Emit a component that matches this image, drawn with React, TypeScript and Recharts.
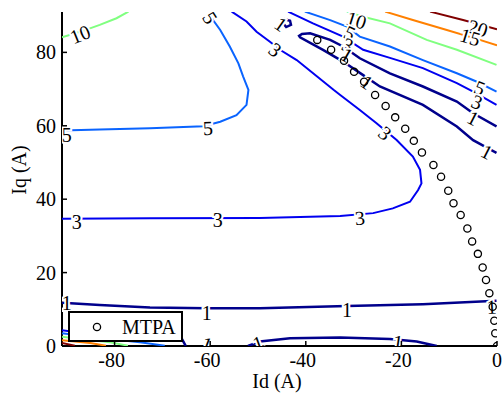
import { ComposedChart, Legend, Scatter, XAxis, YAxis } from "recharts";

// contour lines (Id, Iq)
const level1Loop = [
  { x: -0.1, y: 59.8 }, { x: -5.0, y: 63.4 }, { x: -8.4, y: 66.6 }, { x: -15.5, y: 70.7 },
  { x: -22.4, y: 74.3 }, { x: -28.7, y: 78.4 }, { x: -32.2, y: 81.6 }, { x: -34.9, y: 83.4 },
  { x: -39.1, y: 85.2 }, { x: -40.8, y: 85.0 }, { x: -41.4, y: 84.5 }, { x: -41.2, y: 84.1 },
  { x: -36.4, y: 80.7 }, { x: -32.2, y: 77.5 }, { x: -28.0, y: 73.8 }, { x: -24.5, y: 70.7 },
  { x: -15.5, y: 65.7 }, { x: -8.4, y: 59.8 }, { x: -5.0, y: 56.1 }, { x: -0.1, y: 52.6 },
];
const level1Small = [
  { x: -44.6, y: 89.1 }, { x: -43.3, y: 88.6 }, { x: -43.1, y: 87.5 }, { x: -44.1, y: 86.9 },
  { x: -44.8, y: 88.0 }, { x: -44.6, y: 89.1 },
];
const level1Low = [
  { x: -91, y: 11.8 }, { x: -83.1, y: 11.2 }, { x: -72.6, y: 10.5 }, { x: -60.7, y: 10.3 },
  { x: -49.6, y: 10.3 }, { x: -31.4, y: 10.9 }, { x: -15.5, y: 11.4 }, { x: -0.1, y: 12.3 },
];
const level1Arc = [
  { x: -52.1, y: 0 }, { x: -49.6, y: 1.2 }, { x: -43.3, y: 2.1 }, { x: -32.8, y: 2.3 },
  { x: -22.4, y: 1.9 }, { x: -16.8, y: 1.2 }, { x: -12.6, y: 0 },
];
const level1ArcLeft = [
  { x: -81, y: 3.3 }, { x: -72.6, y: 3.0 }, { x: -67.4, y: 2.6 }, { x: -65.9, y: 1.9 }, { x: -65.1, y: 0 },
];
const level3Main = [
  { x: -55.5, y: 91.1 }, { x: -52.4, y: 88.4 }, { x: -50.3, y: 85.6 }, { x: -47.5, y: 82.9 },
  { x: -45.4, y: 80.7 }, { x: -41.9, y: 77.9 }, { x: -34.2, y: 69.8 }, { x: -32.8, y: 68.4 },
  { x: -28.7, y: 64.3 }, { x: -25.2, y: 60.7 }, { x: -21.0, y: 56.1 }, { x: -17.6, y: 51.6 },
  { x: -16.1, y: 48.0 }, { x: -15.8, y: 44.3 }, { x: -16.5, y: 42.5 }, { x: -18.2, y: 39.3 },
  { x: -21.8, y: 37.5 }, { x: -25.9, y: 36.2 }, { x: -32.8, y: 35.4 }, { x: -49.6, y: 34.9 },
  { x: -72.6, y: 34.8 }, { x: -91, y: 34.7 },
];
const level3Upper = [
  { x: -43.7, y: 91.1 }, { x: -38.5, y: 87.9 }, { x: -32.2, y: 84.3 }, { x: -28.0, y: 80.7 },
  { x: -22.4, y: 78.5 }, { x: -15.5, y: 75.7 }, { x: -8.4, y: 71.6 }, { x: -5.0, y: 69.3 },
  { x: -0.1, y: 65.7 },
];
const level3Corner = [{ x: -91, y: 4.3 }, { x: -86, y: 3.4 }, { x: -80, y: 2.6 }];
const level5Left = [
  { x: -91, y: 58.7 }, { x: -83.1, y: 59.0 }, { x: -72.6, y: 59.3 }, { x: -61.4, y: 59.9 },
  { x: -57.9, y: 61.1 }, { x: -54.5, y: 62.9 }, { x: -52.4, y: 65.7 }, { x: -52.0, y: 69.8 },
  { x: -53.1, y: 73.4 }, { x: -54.1, y: 77.0 }, { x: -55.9, y: 81.6 }, { x: -57.9, y: 86.1 },
  { x: -59.4, y: 88.8 }, { x: -60.0, y: 91.1 },
];
const level5Upper = [
  { x: -40.2, y: 91.1 }, { x: -34.9, y: 88.8 }, { x: -31.4, y: 87.0 }, { x: -28.7, y: 84.3 },
  { x: -22.4, y: 81.6 }, { x: -15.5, y: 77.9 }, { x: -8.4, y: 74.3 }, { x: -4.2, y: 72.0 },
  { x: -0.1, y: 69.3 },
];
const level5Corner = [{ x: -91, y: 3.5 }, { x: -83.1, y: 2.2 }, { x: -74.7, y: 1.0 }, { x: -69.5, y: 0.1 }];
const level10Left = [
  { x: -91, y: 84.1 }, { x: -87.2, y: 85.6 }, { x: -83.1, y: 87.5 }, { x: -79.6, y: 89.3 }, { x: -77.1, y: 91.1 },
];
const level10Upper = [
  { x: -31.4, y: 91.1 }, { x: -28.0, y: 89.7 }, { x: -22.4, y: 87.9 }, { x: -14.7, y: 83.4 },
  { x: -8.4, y: 80.7 }, { x: -0.1, y: 76.6 },
];
const level10Corner = [{ x: -91, y: 2.5 }, { x: -85.1, y: 1.6 }, { x: -81, y: 1.0 }, { x: -77.2, y: 0.1 }];
const level15Upper = [
  { x: -23.4, y: 91.1 }, { x: -17.6, y: 88.8 }, { x: -10.5, y: 86.1 }, { x: -3.6, y: 83.4 }, { x: 0, y: 81.9 },
];
const level15Corner = [{ x: -91, y: 1.6 }, { x: -85.1, y: 0.8 }, { x: -81.8, y: 0.1 }];
const level20Upper = [{ x: -14.0, y: 91.1 }, { x: -7.1, y: 88.8 }, { x: 0, y: 86.3 }];
const level20Corner = [{ x: -91, y: 0.8 }, { x: -88.3, y: 0.1 }];

const contourLabels = [
  { x: -87.2, y: 84.9, text: "10", angle: -22 },
  { x: -90.0, y: 57.5, text: "5", angle: 0 },
  { x: -60.5, y: 59.4, text: "5", angle: -3 },
  { x: -60.0, y: 89.4, text: "5", angle: 58 },
  { x: -46.4, y: 80.7, text: "3", angle: 37 },
  { x: -45.2, y: 87.7, text: "1", angle: 35 },
  { x: -29.4, y: 88.8, text: "10", angle: 18 },
  { x: -30.8, y: 85.3, text: "5", angle: 25 },
  { x: -31.2, y: 82.0, text: "3", angle: 25 },
  { x: -31.4, y: 79.3, text: "1", angle: 30 },
  { x: -27.2, y: 71.9, text: "1", angle: 35 },
  { x: -23.4, y: 58.0, text: "3", angle: 40 },
  { x: -28.7, y: 34.9, text: "3", angle: -5 },
  { x: -58.4, y: 34.3, text: "3", angle: 0 },
  { x: -87.9, y: 33.8, text: "3", angle: 0 },
  { x: -4.0, y: 86.6, text: "20", angle: 17 },
  { x: -5.6, y: 84.2, text: "15", angle: 17 },
  { x: -3.6, y: 70.3, text: "5", angle: 22 },
  { x: -4.2, y: 66.5, text: "3", angle: 22 },
  { x: -5.0, y: 62.1, text: "1", angle: 27 },
  { x: -2.1, y: 52.9, text: "1", angle: 27 },
  { x: -90, y: 11.7, text: "1", angle: 0 },
  { x: -60.7, y: 8.9, text: "1", angle: 0 },
  { x: -31.4, y: 9.8, text: "1", angle: 0 },
  { x: -1.1, y: 10.7, text: "1", angle: -3 },
  { x: -50, y: 0.8, text: "1", angle: -20 },
  { x: -20.7, y: 1.1, text: "1", angle: 8 },
  { x: -60.7, y: 0.5, text: "1", angle: 20 },
];

const mtpa = [
  { x: 0, y: 0 }, { x: -0.36, y: 3.46 }, { x: -0.56, y: 6.89 }, { x: -0.9, y: 10.7 },
  { x: -1.6, y: 14.4 }, { x: -2.3, y: 18.0 }, { x: -3.0, y: 21.4 }, { x: -4.0, y: 25.1 },
  { x: -5.2, y: 28.5 }, { x: -6.2, y: 32.0 }, { x: -7.6, y: 35.7 }, { x: -9.1, y: 38.9 },
  { x: -10.2, y: 42.3 }, { x: -11.7, y: 46.1 }, { x: -13.3, y: 49.3 }, { x: -15.7, y: 52.7 },
  { x: -17.4, y: 55.9 }, { x: -19.2, y: 59.2 }, { x: -21.3, y: 62.3 }, { x: -23.3, y: 65.4 },
  { x: -25.5, y: 68.4 }, { x: -27.8, y: 72.0 }, { x: -29.9, y: 74.7 }, { x: -32.0, y: 77.7 },
  { x: -34.7, y: 80.7 }, { x: -37.6, y: 83.4 },
];

const xTicks = [-80, -60, -40, -20, 0];
const yTicks = [0, 20, 40, 60, 80];

const C1 = "#00008c";
const C3 = "#0000f0";
const C5 = "#0a64ff";
const C10 = "#80ff80";
const C15 = "#ff8000";
const C20 = "#800000";

const contours = [
  { data: level1Loop, color: C1, width: 2.5 },
  { data: level1Small, color: C1, width: 2.5 },
  { data: level1Low, color: C1, width: 2.5 },
  { data: level1Arc, color: C1, width: 2.5 },
  { data: level1ArcLeft, color: C1, width: 2.5 },
  { data: level3Main, color: C3, width: 2 },
  { data: level3Upper, color: C3, width: 2 },
  { data: level3Corner, color: C3, width: 2 },
  { data: level5Left, color: C5, width: 2 },
  { data: level5Upper, color: C5, width: 2 },
  { data: level5Corner, color: C5, width: 2 },
  { data: level10Left, color: C10, width: 2 },
  { data: level10Upper, color: C10, width: 2 },
  { data: level10Corner, color: C10, width: 2 },
  { data: level15Upper, color: C15, width: 2 },
  { data: level15Corner, color: C15, width: 2 },
  { data: level20Upper, color: C20, width: 2 },
  { data: level20Corner, color: C20, width: 2 },
];

const FONT = "Liberation Serif, Times New Roman, serif";

const noDot = () => <g />;

const renderLabel = (props: any) => {
  const { cx, cy, payload } = props;
  return (
    <text
      x={cx}
      y={cy}
      textAnchor="middle"
      dominantBaseline="central"
      fontFamily={FONT}
      fontSize={20}
      fill="#000"
      stroke="#fff"
      strokeWidth={4}
      paintOrder="stroke"
      transform={`rotate(${payload.angle}, ${cx}, ${cy})`}
    >
      {payload.text}
    </text>
  );
};

const renderCircle = (props: any) => (
  <circle cx={props.cx} cy={props.cy} r={3.6} fill="none" stroke="#000" strokeWidth={1.3} />
);

const renderXTick = (props: any) => {
  const { x, y, payload } = props;
  return (
    <g>
      <line x1={x} x2={x} y1={y} y2={y - 5} stroke="#000" strokeWidth={1.5} />
      <text x={payload.value < 0 ? x - 3 : x} y={y + 21} textAnchor="middle" fontFamily={FONT} fontSize={20} fill="#000">
        {payload.value}
      </text>
    </g>
  );
};

const renderYTick = (props: any) => {
  const { x, y, payload } = props;
  return (
    <g>
      <line x1={x} x2={x + 5} y1={y} y2={y} stroke="#000" strokeWidth={1.5} />
      <text x={x - 6} y={y + 7} textAnchor="end" fontFamily={FONT} fontSize={20} fill="#000">
        {payload.value}
      </text>
    </g>
  );
};

const renderLegend = () => (
  <div
    style={{
      boxSizing: "border-box",
      width: 115,
      height: 31,
      border: "2px solid #000",
      background: "#fff",
      display: "flex",
      alignItems: "center",
      fontFamily: FONT,
      fontSize: 20,
    }}
  >
    <svg width={52} height={20}>
      <circle cx={27} cy={10} r={3.6} fill="none" stroke="#000" strokeWidth={1.3} />
    </svg>
    <span style={{ lineHeight: "20px" }}>MTPA</span>
  </div>
);

export default function App() {
  return (
    <div style={{ position: "absolute", left: 0, top: 0 }}>
      <ComposedChart width={503} height={394} margin={{ top: 12, right: 6, bottom: 0, left: 0 }}>
        <XAxis
          type="number"
          dataKey="x"
          domain={[-91, 0]}
          ticks={xTicks}
          allowDataOverflow
          height={48}
          tickSize={0}
          tickMargin={0}
          tickLine={false}
          tick={renderXTick}
          axisLine={{ stroke: "#000", strokeWidth: 2 }}
          label={{
            content: () => (
              <text x={277} y={388} textAnchor="middle" fontFamily={FONT} fontSize={20} fill="#000">
                Id (A)
              </text>
            ),
          }}
        />
        <YAxis
          type="number"
          dataKey="y"
          domain={[0, 91]}
          ticks={yTicks}
          allowDataOverflow
          width={62}
          tickSize={0}
          tickMargin={0}
          tickLine={false}
          tick={renderYTick}
          axisLine={{ stroke: "#000", strokeWidth: 2 }}
          label={{
            content: () => (
              <text
                x={26}
                y={170}
                textAnchor="middle"
                fontFamily={FONT}
                fontSize={20}
                fill="#000"
                transform="rotate(-90, 26, 170)"
              >
                Iq (A)
              </text>
            ),
          }}
        />
        {contours.map((c, i) => (
          <Scatter
            key={`contour-${i}`}
            data={c.data}
            line={{ stroke: c.color, strokeWidth: c.width }}
            lineType="joint"
            shape={noDot}
            legendType="none"
            isAnimationActive={false}
          />
        ))}
        <Scatter data={contourLabels} shape={renderLabel} legendType="none" isAnimationActive={false} />
        <Scatter name="MTPA" data={mtpa} shape={renderCircle} isAnimationActive={false} />
        <Legend
          layout="horizontal"
          verticalAlign="middle"
          align="center"
          wrapperStyle={{ left: 68, top: 311, width: 115, height: 31 }}
          content={renderLegend}
        />
      </ComposedChart>
    </div>
  );
}
